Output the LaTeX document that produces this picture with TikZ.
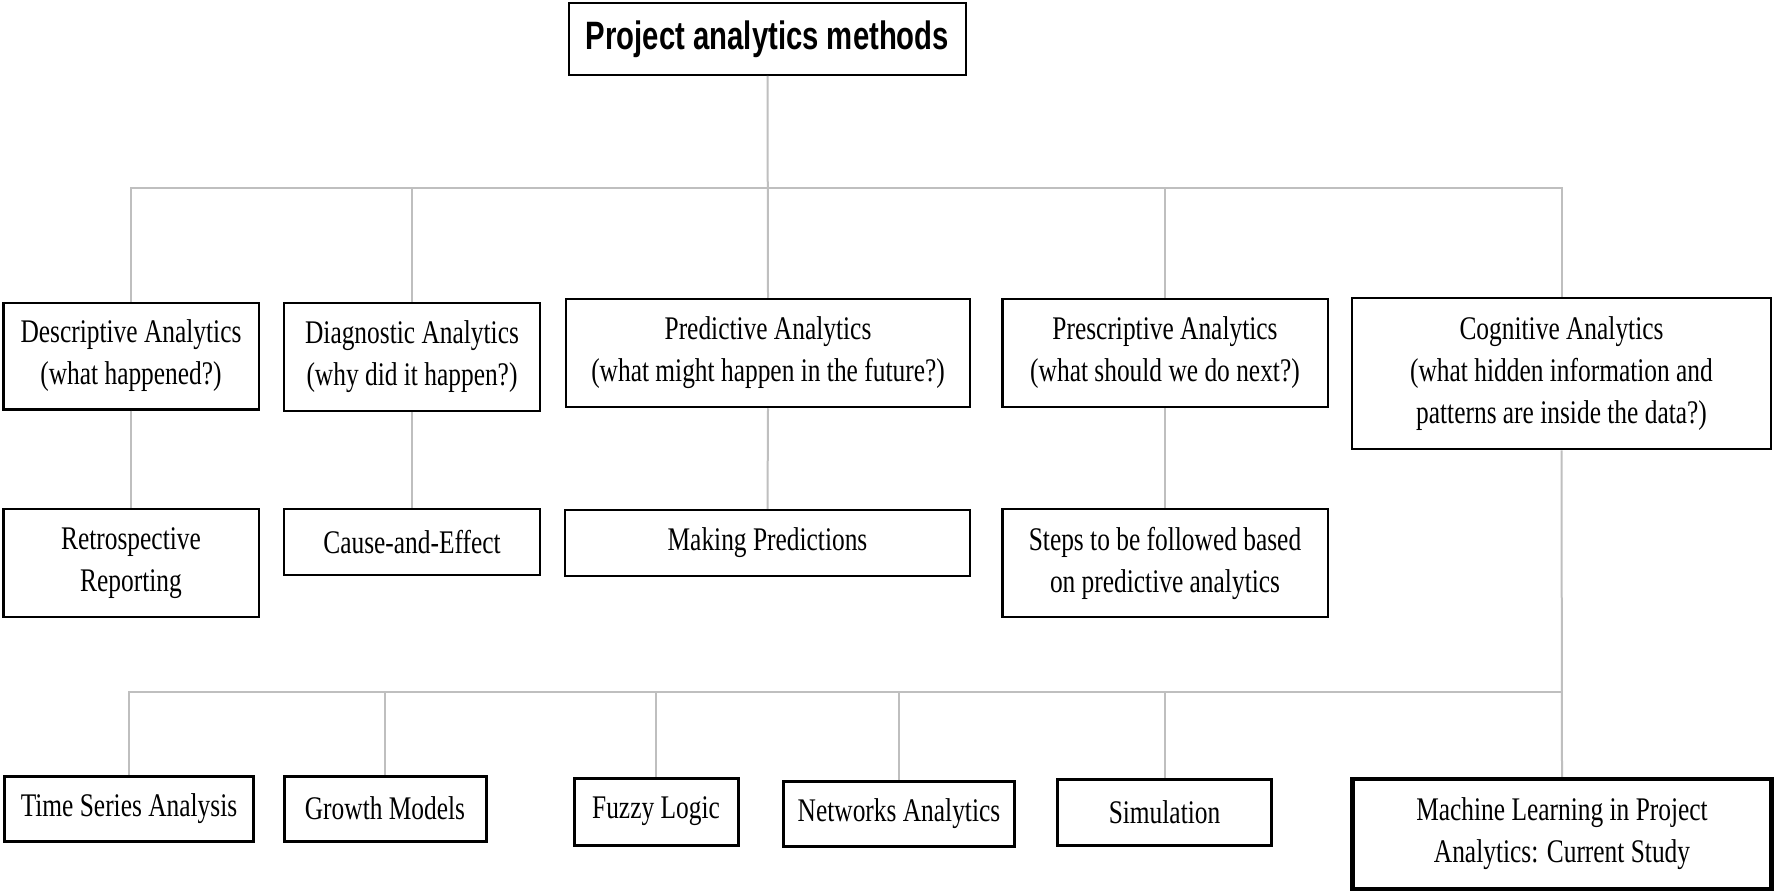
\documentclass[tikz,border=0pt]{standalone}
\usepackage{fontspec}
\setmainfont{Liberation Serif}[FakeStretch=0.77]
\newfontfamily\titlefont{Liberation Sans}[FakeStretch=0.74]
\begin{document}
\begin{tikzpicture}[x=1pt,y=-1pt,
  box/.style={draw=black,line width=2.5pt,inner sep=0pt,align=center,
    font=\fontsize{33}{42}\selectfont},
  lowbox/.style={box,line width=3pt},
  conn/.style={draw=black!25,line width=2pt}]
\useasboundingbox (0,0) rectangle (1776,893);
\fill[white] (0,0) rectangle (1776,893);
% top
\node[draw=black,line width=2pt,inner sep=0pt,minimum width=397pt,minimum height=72pt,
  font=\titlefont\bfseries\fontsize{39.6}{44}\selectfont] (top) at (767.5,39) {Project analytics methods};
% level 2
\node[box,minimum width=255.5pt,minimum height=106.5pt] (desc) at (131,356) {Descriptive Analytics\\(what happened?)};
\node[box,minimum width=256pt,minimum height=108pt] (diag) at (412,357) {Diagnostic Analytics\\(why did it happen?)};
\node[box,minimum width=404pt,minimum height=108pt] (pred) at (768,353) {Predictive Analytics\\(what might happen in the future?)};
\node[box,minimum width=325.5pt,minimum height=108pt] (presc) at (1165,353) {Prescriptive Analytics\\(what should we do next?)};
\node[box,minimum width=419pt,minimum height=151pt] (cog) at (1561.5,373.5) {Cognitive Analytics\\(what hidden information and\\patterns are inside the data?)};
% level 3
\node[box,minimum width=255.5pt,minimum height=108pt] (retro) at (131,563) {Retrospective\\Reporting};
\node[box,minimum width=256pt,minimum height=66pt] (cause) at (412,542) {Cause-and-Effect};
\node[box,minimum width=405pt,minimum height=66pt] (making) at (767.5,543) {Making Predictions};
\node[box,minimum width=325.5pt,minimum height=108pt] (steps) at (1165,563) {Steps to be followed based\\on predictive analytics};
% bottom
\node[lowbox,minimum width=248.5pt,minimum height=65pt] (ts) at (129,808.5) {Time Series Analysis};
\node[lowbox,minimum width=202pt,minimum height=65pt] (gm) at (385,808.5) {Growth Models};
\node[lowbox,minimum width=164pt,minimum height=67pt] (fuzzy) at (656,811.5) {Fuzzy Logic};
\node[lowbox,minimum width=231pt,minimum height=65pt] (net) at (899,813.5) {Networks Analytics};
\node[lowbox,minimum width=214pt,minimum height=66pt] (sim) at (1164.5,812) {Simulation};
\node[lowbox,line width=4.5pt,minimum width=419pt,minimum height=110pt] (ml) at (1562,834) {Machine Learning in Project\\Analytics: Current Study};
% connectors level 1
\coordinate (j1) at (768,188);
\draw[conn] (top.south) -- (pred.north);
\draw[conn] (desc.north) |- (j1) -| (cog.north);
\draw[conn] (diag.north) -- (diag.north |- j1);
\draw[conn] (presc.north) -- (presc.north |- j1);
% level 2 to 3
\draw[conn] (desc.south) -- (retro.north);
\draw[conn] (diag.south) -- (cause.north);
\draw[conn] (pred.south) -- (making.north);
\draw[conn] (presc.south) -- (steps.north);
% cognitive bus
\coordinate (j2) at (1562,692);
\draw[conn] (cog.south) -- (ml.north);
\draw[conn] (ts.north) |- (j2);
\draw[conn] (gm.north) -- (gm.north |- j2);
\draw[conn] (fuzzy.north) -- (fuzzy.north |- j2);
\draw[conn] (net.north) -- (net.north |- j2);
\draw[conn] (sim.north) -- (sim.north |- j2);
\end{tikzpicture}
\end{document}
